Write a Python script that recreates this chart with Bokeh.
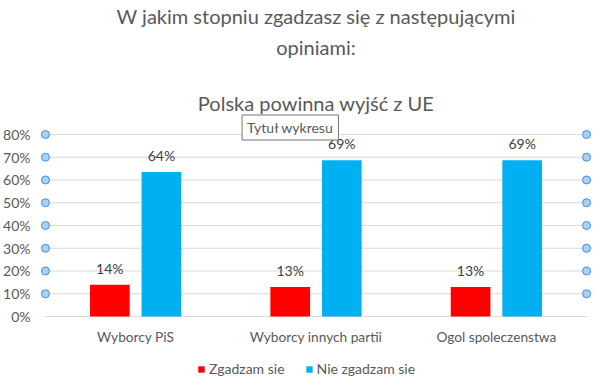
from bokeh.plotting import figure
from bokeh.models import Range1d, FixedTicker, Legend, LegendItem, Label, ColumnDataSource
from bokeh.embed import file_html
from bokeh.resources import INLINE
from bokeh.core.properties import value

categories = ["Wyborcy PiS", "Wyborcy innych partii", "Ogol spoleczenstwa"]
zgadzam = [0.14, 0.13, 0.13]
nie_zgadzam = [0.635, 0.687, 0.687]
series_names = ["Zgadzam sie", "Nie zgadzam sie"]
series_colors = ["#FF0000", "#00B0F0"]
y_ticks = [0.0, 0.1, 0.2, 0.3, 0.4, 0.5, 0.6, 0.7, 0.8]
title_lines = ["W jakim stopniu zgadzasz się z następującymi", "opiniami:", "Polska powinna wyjść z UE"]
tooltip_text = "Tytuł wykresu"

FONT = "Lato"
GRAY = "#595959"

n = len(categories)
centers = [i + 0.5 for i in range(n)]
off = 0.143
bw = 0.22

p = figure(width=601, height=389, x_range=Range1d(-0.0275, n + 0.0606),
           y_range=Range1d(-0.3209, 1.3890), output_backend="svg",
           toolbar_location=None, min_border_left=36, min_border_right=4,
           min_border_top=0, min_border_bottom=0)
p.outline_line_color = None
p.xgrid.visible = False
p.ygrid.visible = False
p.xaxis.visible = False

# gridlines
p.segment(x0=[0] * len(y_ticks), x1=[n] * len(y_ticks), y0=y_ticks, y1=y_ticks,
          line_color="#D9D9D9", line_width=1)

src_a = ColumnDataSource(dict(x=[c - off for c in centers], top=zgadzam,
                              lab=["%d%%" % round(v * 100) for v in zgadzam]))
src_b = ColumnDataSource(dict(x=[c + off for c in centers], top=nie_zgadzam,
                              lab=["%d%%" % round(v * 100) for v in nie_zgadzam]))
ra = p.vbar(x="x", top="top", width=bw, bottom=0, source=src_a, fill_color=series_colors[0], line_color=None)
rb = p.vbar(x="x", top="top", width=bw, bottom=0, source=src_b, fill_color=series_colors[1], line_color=None)

for s in (src_a, src_b):
    p.text(x="x", y="top", text="lab", source=s, text_align="center", text_baseline="bottom",
           y_offset=-8, text_font=value(FONT), text_font_size="14px", text_color="#404040")

# category labels
p.text(x=centers, y=[-0.0879] * n, text=categories, text_align="center", text_baseline="middle",
       text_font=value(FONT), text_font_size="13.7px", text_color=GRAY)

# selection handles on gridlines
hy = [t for t in y_ticks if t > 0]
p.scatter(x=[0] * len(hy) + [n] * len(hy), y=hy + hy, size=8, marker="circle",
          fill_color="#A9D1F5", line_color="#3C8EE0", line_width=1)

# y axis
p.yaxis.ticker = FixedTicker(ticks=y_ticks)
p.yaxis.major_label_overrides = {t: "%d%%" % round(t * 100) for t in y_ticks}
p.yaxis.axis_line_color = None
p.yaxis.major_tick_line_color = None
p.yaxis.minor_tick_line_color = None
p.yaxis.major_tick_out = 0
p.yaxis.major_label_standoff = 10
p.yaxis.major_label_text_font = FONT
p.yaxis.major_label_text_font_size = "14px"
p.yaxis.major_label_text_color = GRAY

# titles
ty = [1.3187, 1.1868, 0.9363]
for t, y in zip(title_lines, ty):
    p.add_layout(Label(x=1.5, y=y, text=t, text_align="center", text_baseline="middle",
                       text_font=FONT, text_font_size="20px", text_color=GRAY))

# tooltip box
tx, tyy = 1.090, 0.8308
p.add_layout(Label(x=tx, y=tyy, text=tooltip_text, text_align="left", text_baseline="middle",
                   x_offset=3, y_offset=-3, text_font=FONT, text_font_size="14px", text_alpha=0,
                   background_fill_color="#A0A0A0", background_fill_alpha=0.5, padding=(5, 4)))
p.add_layout(Label(x=tx, y=tyy, text=tooltip_text, text_align="left", text_baseline="middle",
                   text_font=FONT, text_font_size="14px", text_color=GRAY,
                   background_fill_color="white", border_line_color="#767676", padding=(5, 4)))

legend = Legend(items=[LegendItem(label=series_names[0], renderers=[ra]),
                       LegendItem(label=series_names[1], renderers=[rb])],
                orientation="horizontal", location=(157, 12), glyph_width=8, glyph_height=8,
                label_height=16, label_standoff=4, spacing=20, padding=4, margin=0,
                label_text_font=FONT, label_text_font_size="14px", label_text_color=GRAY,
                border_line_color=None, background_fill_alpha=0)
p.add_layout(legend)

open("out.html", "w").write(file_html(p, INLINE))
